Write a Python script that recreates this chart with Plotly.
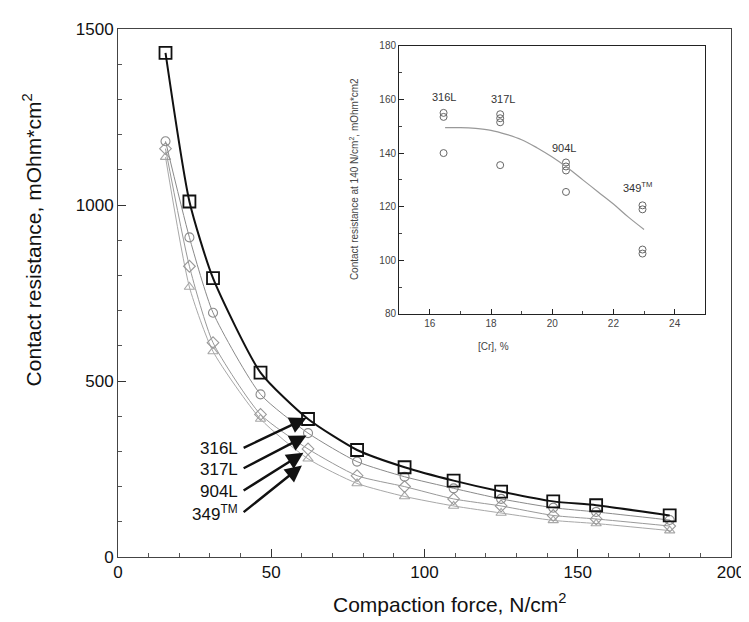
import plotly.graph_objects as go

# ---- main chart data ----
force = [15.5, 23.3, 31, 46.5, 62, 78, 93.5, 109.5, 125, 142, 156, 180]
r_316L = [1432, 1010, 792, 524, 392, 304, 255, 217, 186, 158, 147, 118]
r_317L = [1181, 908, 694, 462, 352, 271, 228, 195, 165, 140, 128, 105]
r_904L = [1160, 826, 609, 405, 307, 231, 200, 165, 145, 118, 108, 88]
r_349TM = [1136, 767, 584, 392, 279, 209, 172, 145, 125, 104, 95, 75]

# ---- inset data ----
cr_316L = [16.45, 16.45, 16.45]
cr_317L = [18.3, 18.3, 18.3, 18.3]
cr_904L = [20.45, 20.45, 20.45, 20.45]
cr_349TM = [22.95, 22.95, 22.95, 22.95]
res_316L = [155, 153.5, 140]
res_317L = [154.5, 153, 151.5, 135.5]
res_904L = [136.5, 135, 133.5, 125.5]
res_349TM = [120.5, 119, 104, 102.5]
trend_x = [16.5, 17.0, 17.5, 18.0, 18.5, 19.0, 19.5, 20.0, 20.5, 21.0, 21.5, 22.0, 22.5, 23.0]
trend_y = [149.5, 149.5, 149.2, 148.5, 147, 145, 142, 138.5, 134.5, 130, 125.5, 121, 116, 111.5]

inset_labels = ["316L", "317L", "904L", "349<sup>TM</sup>"]
inset_lab_x = [16.45, 18.4, 20.4, 22.8]
inset_lab_y = [161, 160, 142, 127.5]

arrow_labels = ["316L", "317L", "904L", "349<sup>TM</sup>"]
arrow_tip_x = [61.5, 61.5, 60.5, 60]
arrow_tip_y = [395, 345, 296, 260]
arrow_tail_x = [40.5, 40.5, 40.5, 40.5]
arrow_tail_y = [308, 250, 186, 124]

FONT = "Liberation Sans, Arial"

fig = go.Figure()

def add_series(x, y, color, lw, symbol, msize, name):
    fig.add_trace(go.Scatter(
        x=x, y=y, mode="lines+markers", name=name,
        line=dict(color=color, width=lw, shape="spline", smoothing=0.6),
        marker=dict(symbol=symbol, size=msize, color=color,
                    line=dict(color=color, width=1.8 if lw > 1.5 else 1.1)),
        showlegend=False))

add_series(force, r_349TM, "#a8a8a8", 1.0, "triangle-up-open", 9, "349TM")
add_series(force, r_904L, "#999999", 1.0, "diamond-open", 9, "904L")
add_series(force, r_317L, "#8a8a8a", 1.0, "circle-open", 9, "317L")
add_series(force, r_316L, "#111111", 2.0, "square-open", 12, "316L")

# inset
for cx, cy in [(cr_316L, res_316L), (cr_317L, res_317L), (cr_904L, res_904L), (cr_349TM, res_349TM)]:
    fig.add_trace(go.Scatter(
        x=cx, y=cy, mode="markers", xaxis="x2", yaxis="y2",
        marker=dict(symbol="circle-open", size=7, color="#666",
                    line=dict(color="#666", width=1)),
        showlegend=False))
fig.add_trace(go.Scatter(
    x=trend_x, y=trend_y, mode="lines", xaxis="x2", yaxis="y2",
    line=dict(color="#999", width=1.2, shape="spline"), showlegend=False))

annotations = []
for t, x, y in zip(inset_labels, inset_lab_x, inset_lab_y):
    annotations.append(dict(x=x, y=y, xref="x2", yref="y2", text=t, showarrow=False,
                            font=dict(family=FONT, size=11, color="#333")))

for t, tx, ty, ax, ay in zip(arrow_labels, arrow_tip_x, arrow_tip_y, arrow_tail_x, arrow_tail_y):
    annotations.append(dict(x=tx, y=ty, xref="x", yref="y", ax=ax, ay=ay,
                            axref="x", ayref="y", text="", showarrow=True,
                            arrowhead=2, arrowsize=1.4, arrowwidth=2.4,
                            arrowcolor="#111", standoff=0, startstandoff=0))
    annotations.append(dict(x=ax - 0.7, y=ay, xref="x", yref="y", text=t,
                            showarrow=False, xanchor="right", yanchor="middle",
                            font=dict(family=FONT, size=17, color="#111")))

annotations.append(dict(x=0.54, y=-0.088, xref="paper", yref="paper",
                        text="Compaction force, N/cm<sup>2</sup>", showarrow=False,
                        xanchor="center", yanchor="middle",
                        font=dict(family=FONT, size=21, color="#111")))
annotations.append(dict(x=-0.14, y=0.6, xref="paper", yref="paper",
                        text="Contact resistance, mOhm*cm<sup>2</sup>", showarrow=False,
                        textangle=-90, xanchor="center", yanchor="middle",
                        font=dict(family=FONT, size=21, color="#111")))
annotations.append(dict(x=0.612, y=0.398, xref="paper", yref="paper",
                        text="[Cr], %", showarrow=False,
                        xanchor="center", yanchor="middle",
                        font=dict(family=FONT, size=10, color="#444")))
annotations.append(dict(x=0.386, y=0.715, xref="paper", yref="paper",
                        text="Contact resistance at 140 N/cm<sup>2</sup>, mOhm*cm2", showarrow=False,
                        textangle=-90, xanchor="center", yanchor="middle",
                        font=dict(family=FONT, size=10, color="#444")))

fig.update_layout(
    width=749, height=622,
    margin=dict(l=110, r=21, t=16, b=73),
    paper_bgcolor="white", plot_bgcolor="white",
    font=dict(family=FONT, color="#111"),
    annotations=annotations,
    xaxis=dict(range=[0, 200], dtick=50, ticks="inside", ticklen=8, tickcolor="#333",
               showline=True, linecolor="#444", linewidth=1, mirror=True,
               showgrid=False, zeroline=False,
               minor=dict(dtick=10, ticks="inside", ticklen=4, tickcolor="#555"),
               tickfont=dict(family=FONT, size=17, color="#111")),
    yaxis=dict(range=[0, 1500], dtick=500, ticks="inside", ticklen=8, tickcolor="#333",
               showline=True, linecolor="#444", linewidth=1, mirror=True,
               showgrid=False, zeroline=False,
               minor=dict(dtick=100, ticks="inside", ticklen=4, tickcolor="#555"),
               tickfont=dict(family=FONT, size=17, color="#111")),
    xaxis2=dict(domain=[0.4587, 0.958], anchor="y2", range=[15, 25], dtick=2,
                ticks="inside", ticklen=5, tickcolor="#222",
                showline=True, linecolor="#222", linewidth=1.3, mirror=True,
                showgrid=False, zeroline=False,
                minor=dict(dtick=1, ticks="inside", ticklen=3, tickcolor="#444"),
                tickfont=dict(family=FONT, size=10, color="#444")),
    yaxis2=dict(domain=[0.4605, 0.968], anchor="x2", range=[80, 180], dtick=20,
                ticks="inside", ticklen=5, tickcolor="#222",
                showline=True, linecolor="#222", linewidth=1.3, mirror=True,
                showgrid=False, zeroline=False,
                minor=dict(dtick=10, ticks="inside", ticklen=3, tickcolor="#444"),
                tickfont=dict(family=FONT, size=10, color="#444")),
)

fig.write_html("out.html")
